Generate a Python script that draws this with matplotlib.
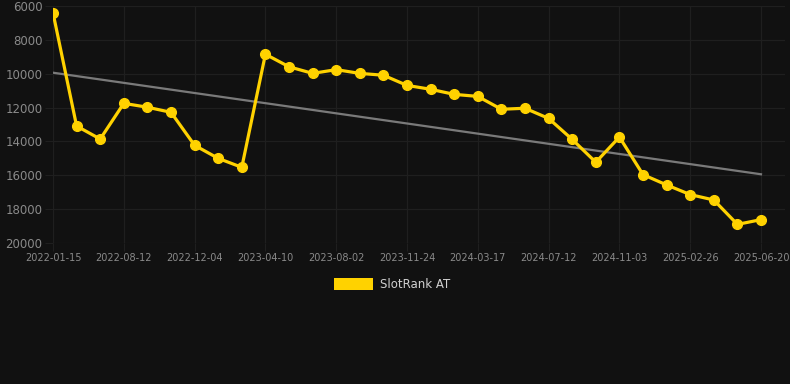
import numpy as np
import matplotlib
matplotlib.use("Agg")
import matplotlib.pyplot as plt

# rank values per snapshot (31 points, category x axis)
ranks = [6400, 13090, 13860, 11750, 11980, 12280, 14230, 15000, 15530,
         8850, 9590, 9980, 9760, 9980, 10090, 10690, 10920, 11220, 11340,
         12100, 12040, 12640, 13880, 15230, 13740, 15960, 16570, 17140,
         17460, 18900, 18620]

# only every third category carries a visible label
tick_labels = ["2022-01-15", "2022-08-12", "2022-12-04", "2023-04-10",
               "2023-08-02", "2023-11-24", "2024-03-17", "2024-07-12",
               "2024-11-03", "2025-02-26", "2025-06-20"]

trend_start = 9940
trend_end = 15940

BG = "#111111"
GRID = "#1f1f1f"
TEXT = "#8a8a8a"
GOLD = "#FFD200"

W, H = 790, 384
fig = plt.figure(figsize=(W / 100, H / 100), dpi=100, facecolor=BG)
ax = fig.add_axes([53 / W, (H - 243) / H, (785 - 53) / W, (243 - 6) / H])
ax.set_facecolor(BG)

x = np.arange(len(ranks))
ax.plot([x[0], x[-1]], [trend_start, trend_end], color="#7a7a7a", lw=1.6, zorder=2)
ax.plot(x, ranks, color=GOLD, lw=2.3, marker="o", markersize=7,
        markerfacecolor=GOLD, markeredgecolor=GOLD, zorder=3)

ax.set_ylim(20000, 6000)
ax.set_yticks(range(6000, 20001, 2000))
ax.set_xlim(0, 30 + 24 / 23.6)
ax.set_xticks(x[::3])
ax.set_xticklabels(tick_labels)

ax.grid(True, color=GRID, lw=0.9)
ax.set_axisbelow(True)
for s in ax.spines.values():
    s.set_visible(False)
ax.tick_params(axis="y", length=6, color=GRID, labelcolor=TEXT, labelsize=8.5, pad=1.5)
ax.tick_params(axis="x", length=6, color=GRID, labelcolor=TEXT, labelsize=7, pad=1)

# legend
fig.patches.append(plt.Rectangle((334 / W, 1 - 290 / H), 39 / W, 12 / H,
                                 transform=fig.transFigure, facecolor=GOLD,
                                 edgecolor="none"))
fig.text(380 / W, 1 - 284 / H, "SlotRank AT", color="#d0d0d0", fontsize=8.5,
         va="center", ha="left")

fig.savefig("out.png", dpi=100, facecolor=BG)
